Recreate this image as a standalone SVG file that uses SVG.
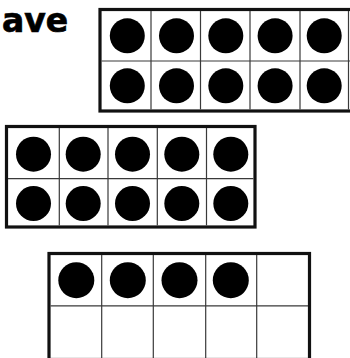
<svg xmlns="http://www.w3.org/2000/svg" width="350" height="358" viewBox="0 0 350 358">
  <style>
    .frame { fill: #ffffff; stroke: #111111; stroke-width: 3.2; }
    .grid { fill: none; stroke: #3a3a3a; stroke-width: 1.2; }
    .dot { fill: #000000; }
    .title { font-family: "DejaVu Sans", "Liberation Sans", sans-serif; font-weight: bold; font-size: 33px; fill: #000000; stroke: #000000; stroke-width: 0.7; }
  </style>
  <rect x="0" y="0" width="350" height="358" fill="#ffffff"/>
  <text class="title" x="68.2" y="31.7" text-anchor="end">ave</text>

  <g id="tenframe-1">
    <rect class="frame" x="100" y="9.5" width="252" height="101.5"/>
    <path class="grid" d="M151 11 V109.5 M200.5 11 V109.5 M250 11 V109.5 M300 11 V109.5 M348.5 11 V109.5 M101.5 61 H350"/>
    <circle class="dot" cx="127.3" cy="35.8" r="17.5"/>
    <circle class="dot" cx="176.5" cy="35.8" r="17.5"/>
    <circle class="dot" cx="225.8" cy="35.8" r="17.5"/>
    <circle class="dot" cx="275.1" cy="35.8" r="17.5"/>
    <circle class="dot" cx="324.2" cy="35.8" r="17.5"/>
    <circle class="dot" cx="127.3" cy="85.8" r="17.5"/>
    <circle class="dot" cx="176.5" cy="85.8" r="17.5"/>
    <circle class="dot" cx="225.8" cy="85.8" r="17.5"/>
    <circle class="dot" cx="275.1" cy="85.8" r="17.5"/>
    <circle class="dot" cx="324.2" cy="85.8" r="17.5"/>
  </g>

  <g id="tenframe-2">
    <rect class="frame" x="6.5" y="126.5" width="248.5" height="100.5"/>
    <path class="grid" d="M59.3 128 V225.5 M108 128 V225.5 M157.3 128 V225.5 M206.5 128 V225.5 M8 178.7 H253.5"/>
    <circle class="dot" cx="33.5" cy="154.2" r="17.5"/>
    <circle class="dot" cx="83.2" cy="154.2" r="17.5"/>
    <circle class="dot" cx="132.5" cy="154.2" r="17.5"/>
    <circle class="dot" cx="181.8" cy="154.2" r="17.5"/>
    <circle class="dot" cx="230.8" cy="154.2" r="17.5"/>
    <circle class="dot" cx="33.5" cy="203.5" r="17.5"/>
    <circle class="dot" cx="83.2" cy="203.5" r="17.5"/>
    <circle class="dot" cx="132.5" cy="203.5" r="17.5"/>
    <circle class="dot" cx="181.8" cy="203.5" r="17.5"/>
    <circle class="dot" cx="230.8" cy="203.5" r="17.5"/>
  </g>

  <g id="tenframe-3">
    <rect class="frame" x="49" y="253.5" width="260.5" height="106"/>
    <path class="grid" d="M101.7 255 V358 M153.3 255 V358 M205.7 255 V358 M256.7 255 V358 M50.5 305.8 H308"/>
    <circle class="dot" cx="76.3" cy="280.2" r="18"/>
    <circle class="dot" cx="127.8" cy="280.2" r="18"/>
    <circle class="dot" cx="179.5" cy="280.2" r="18"/>
    <circle class="dot" cx="230.8" cy="280.2" r="18"/>
  </g>
</svg>
